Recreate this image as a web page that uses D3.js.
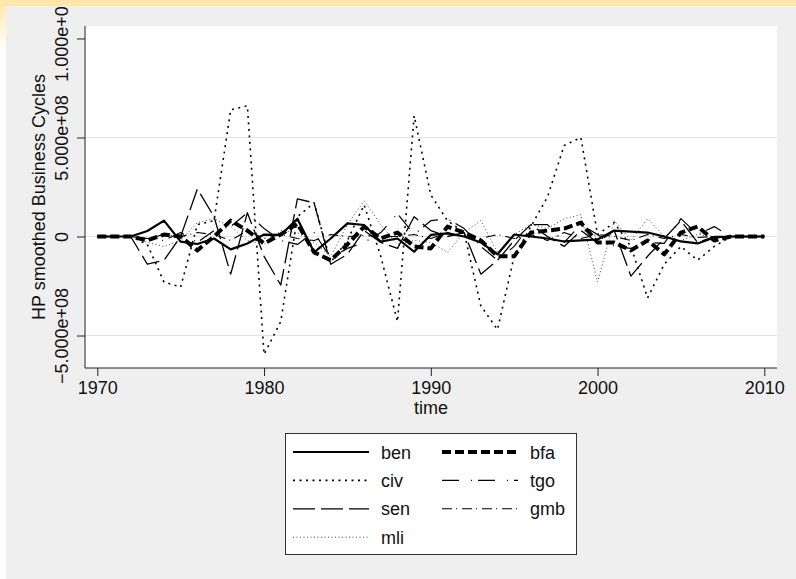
<!DOCTYPE html>
<html>
<head>
<meta charset="utf-8">
<script src="https://cdnjs.cloudflare.com/ajax/libs/d3/7.8.5/d3.min.js"></script>
<style>
  body { margin: 0; background: #fff; }
  text { font-family: "Liberation Sans", Arial, sans-serif; fill: #111; }
</style>
</head>
<body>
<svg width="796" height="579"></svg>
<script>
// years and cycle values (in units of 1e8)
let years = d3.range(1970, 2011);
let ben = [0,0,0,0.28,0.8,-0.26,-0.38,-0.1,-0.65,-0.35,0.1,0.08,0.9,-0.8,-0.1,0.66,0.58,-0.26,-0.1,-0.77,0.08,0.16,0,-0.3,-0.9,0.1,0,-0.1,-0.25,-0.2,-0.15,0.3,0.25,0.2,0,-0.25,-0.35,-0.05,0,0,0];
let bfa = [0,0,0,-0.2,0.1,0,-0.7,0,0.8,0.3,-0.35,0.1,0.65,-0.8,-1.2,-0.4,0.5,-0.1,0.2,-0.5,-0.6,0.5,0.2,-0.2,-1.0,-1.0,0.2,0.3,0.4,0.7,-0.3,-0.3,-0.7,-0.2,-0.9,0.2,0.5,-0.2,0,0,0];
let civ = [0,0,0,-0.4,-2.3,-2.55,0.6,0.8,6.4,6.6,-5.95,-4.3,1.0,1.7,-1.3,-0.2,1.6,-1.0,-4.3,6.1,2.1,0.8,0.2,-3.5,-4.7,-1.0,0.5,2.0,4.6,5.0,0.1,0.7,-0.5,-3.1,-1.4,-0.5,-1.2,-0.5,0,0,0];
let tgo = [0,0,0,-0.1,-0.2,0.2,-0.3,0.3,0.5,1.2,0.4,-0.2,-0.4,0.2,-1.1,-0.6,-0.3,0.2,1.15,0.1,0.8,0.9,0.4,-0.5,-1.2,-0.5,0.6,0.6,-0.3,0.6,0.1,-0.5,-0.6,-0.3,-0.35,0.9,0.1,0.5,0,0,0];
let sen = [0,0,0,-1.4,-1.2,0,2.4,1.0,-1.9,1.2,-1.0,-2.45,1.9,1.7,-1.4,-0.9,0.3,-0.3,-0.6,1.0,0.3,0,0.2,-1.9,-1.2,-0.2,0.6,0,-0.5,0.3,-0.3,0.3,-2.0,-1.0,-0.1,0.8,-0.3,0,0,0,0];
let gmb = [0,0,0,-0.1,0.1,0,0.2,0.1,-0.2,0.3,-0.1,0.1,-0.1,-0.2,0.1,0,0.05,0,0,0.1,-0.1,0.2,0,-0.1,0.1,-0.1,0.1,-0.2,0.2,-0.1,0.1,0,-0.2,0.1,-0.1,0.1,-0.05,0,0,0,0];
let mli = [0,0,0,-0.3,-0.5,-0.2,0.7,0.9,0.5,-0.2,-0.4,0.3,0.2,-0.3,-1.0,0.6,1.8,0.6,-0.4,-0.2,-0.3,-0.8,0.2,0.8,-0.8,0.1,0.6,0.4,0.9,1.1,-2.3,0.8,-0.2,0.9,0,-0.2,0.1,0,0,0,0];

let xTicks = [1970, 1980, 1990, 2000, 2010];
let yTicks = [-5, 0, 5, 10];

// legend order: rows of two
let series = [
  {name: "ben", values: ben, width: 2.2, dash: null, color: "#000"},
  {name: "bfa", values: bfa, width: 4, dash: "9,4", color: "#000"},
  {name: "civ", values: civ, width: 1.6, dash: "2,4.5", color: "#000"},
  {name: "tgo", values: tgo, width: 1.2, dash: "17,12,1,6", color: "#000"},
  {name: "sen", values: sen, width: 1.3, dash: "22,6", color: "#000"},
  {name: "gmb", values: gmb, width: 1.1, dash: "10,4,1,5", color: "#000"},
  {name: "mli", values: mli, width: 1, dash: "1,2.5", color: "#444"}
];

let svg = d3.select("svg");

// outer frame: yellow band, grey panel
let defs = svg.append("defs");
let grad = defs.append("linearGradient").attr("id", "fade")
    .attr("x1", 0).attr("y1", 0).attr("x2", 0).attr("y2", 1);
grad.append("stop").attr("offset", "0%").attr("stop-color", "#fde8a9");
grad.append("stop").attr("offset", "100%").attr("stop-color", "#ffffff");

svg.append("rect").attr("x", 0).attr("y", 0).attr("width", 7).attr("height", 50).attr("fill", "url(#fade)");
svg.append("rect").attr("x", 6).attr("y", 6).attr("width", 790).attr("height", 573).attr("fill", "#efefef");

let pLeft = 85, pRight = 777, pTop = 26, pBottom = 368;
svg.append("rect").attr("x", pLeft).attr("y", pTop).attr("width", pRight - pLeft).attr("height", pBottom - pTop).attr("fill", "#fff");

let x = d3.scaleLinear().domain([1970, 2010]).range([97.3, 764.3]);
let y = d3.scaleLinear().domain([-6.64, 10.63]).range([pBottom, pTop]);

// grid
svg.append("g").selectAll("line")
  .data(yTicks.filter(function(d) { return d < 10; }))
  .enter().append("line")
    .attr("x1", pLeft).attr("x2", pRight)
    .attr("y1", function(d) { return y(d); })
    .attr("y2", function(d) { return y(d); })
    .style("stroke", "#e4e4e4")
    .style("stroke-width", 1.2);

function sciLabel(d) {
  if (d === 0) return "0";
  let s = d3.format(".3e")(Math.abs(d) * 1e8);   // e.g. 5.000e+8
  s = s.replace(/e([+-])(\d)$/, "e$10$2");
  return (d < 0 ? "\u2212" : "") + s;
}

// y axis
let yAxis = svg.append("g")
    .attr("transform", "translate(" + pLeft + ",0)")
    .call(d3.axisLeft(y).tickValues(yTicks).tickSize(8).tickFormat(sciLabel));
yAxis.select(".domain").attr("d", "M0," + pTop + "V" + pBottom).style("stroke", "#222");
yAxis.selectAll(".tick line").style("stroke", "#222");
yAxis.selectAll(".tick text")
    .attr("x", 0).attr("dy", 0)
    .attr("transform", "translate(-17,0) rotate(-90)")
    .attr("text-anchor", "middle")
    .style("font-size", "18px")
    .style("font-family", "Liberation Sans, Arial, sans-serif")
    .style("fill", "#111");

// x axis
let xAxis = svg.append("g")
    .attr("transform", "translate(0," + pBottom + ")")
    .call(d3.axisBottom(x).tickValues(xTicks).tickSize(8).tickFormat(d3.format("d")));
xAxis.select(".domain").attr("d", "M" + pLeft + ",0H" + pRight).style("stroke", "#222");
xAxis.selectAll(".tick line").style("stroke", "#222");
xAxis.selectAll(".tick text")
    .attr("y", 26).attr("dy", 0)
    .style("font-size", "18px")
    .style("font-family", "Liberation Sans, Arial, sans-serif")
    .style("fill", "#111");

svg.append("text")
    .attr("x", (pLeft + pRight) / 2).attr("y", 414)
    .attr("text-anchor", "middle")
    .style("font-size", "18px")
    .text("time");

svg.append("text")
    .attr("transform", "translate(45," + ((pTop + pBottom) / 2) + ") rotate(-90)")
    .attr("text-anchor", "middle")
    .style("font-size", "18px")
    .text("HP smoothed Business Cycles");

// series lines
let line = d3.line()
    .x(function(d, i) { return x(years[i]); })
    .y(function(d) { return y(d); });

let drawOrder = ["mli", "gmb", "tgo", "sen", "civ", "bfa", "ben"];
drawOrder.forEach(function(n) {
  let s = series.find(function(d) { return d.name === n; });
  svg.append("path")
      .datum(s.values)
      .attr("d", line)
      .attr("fill", "none")
      .style("stroke", s.color)
      .style("stroke-width", s.width)
      .style("stroke-dasharray", s.dash)
      .style("stroke-linejoin", "round");
});

// legend
let legend = svg.append("g");
legend.append("rect")
    .attr("x", 285.5).attr("y", 433.5).attr("width", 291).attr("height", 121)
    .attr("fill", "#fff").style("stroke", "#333").style("stroke-width", 1);

let keyItems = legend.selectAll(".key")
    .data(series)
    .enter().append("g")
      .attr("class", "key")
      .attr("transform", function(d, i) {
        let col = i % 2, row = Math.floor(i / 2);
        return "translate(" + (col === 0 ? 293 : 442) + "," + (452 + row * 28.4) + ")";
      });

keyItems.append("line")
    .attr("x1", 0).attr("x2", 76).attr("y1", 0).attr("y2", 0)
    .style("stroke", function(d) { return d.color; })
    .style("stroke-width", function(d) { return d.width; })
    .style("stroke-dasharray", function(d) { return d.dash; });

keyItems.append("text")
    .attr("x", 88).attr("y", 6.5)
    .style("font-size", "18px")
    .text(function(d) { return d.name; });

// top band drawn last (clips the top label as in the source)
svg.append("rect").attr("x", 0).attr("y", 0).attr("width", 796).attr("height", 6).attr("fill", "#fde8a9");
</script>
</body>
</html>
